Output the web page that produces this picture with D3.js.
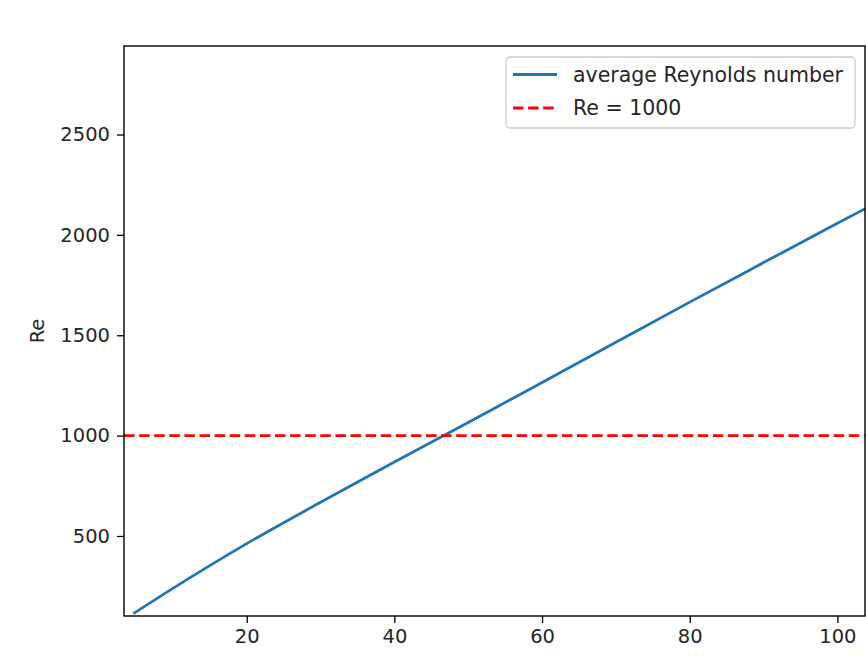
<!DOCTYPE html>
<html>
<head>
<meta charset="utf-8">
<script src="https://cdn.jsdelivr.net/npm/d3@7"></script>
<style>
  body { margin: 0; background: #fff; }
  text { font-family: "DejaVu Sans", sans-serif; fill: #262626; }
</style>
</head>
<body>
<div id="chart"></div>
<script>
// Data
const velocity = [4.64, 10, 20, 30, 40, 50, 60, 70, 80, 90, 100, 104];
const reynolds = [113, 239, 462, 668, 869, 1065, 1265, 1465, 1665, 1862, 2058, 2135];
const threshold = 1000;
const xTicks = [20, 40, 60, 80, 100];
const yTicks = [500, 1000, 1500, 2000, 2500];
const legendLabels = ["average Reynolds number", "Re = 1000"];

const svgWidth = 866;
const svgHeight = 658;

const margin = { top: 46, right: 1, bottom: 42, left: 124 };
const width = svgWidth - margin.left - margin.right;
const height = svgHeight - margin.top - margin.bottom;

const svg = d3.select("#chart")
  .append("svg")
  .attr("width", svgWidth)
  .attr("height", svgHeight);

const chartGroup = svg.append("g")
  .attr("transform", `translate(${margin.left}, ${margin.top})`);

const xScale = d3.scaleLinear().domain([3.38, 103.74]).range([0, width]);
const yScale = d3.scaleLinear().domain([101.4, 2941]).range([height, 0]);

chartGroup.append("clipPath").attr("id", "clip")
  .append("rect").attr("width", width).attr("height", height);

// axes
const bottomAxis = d3.axisBottom(xScale).tickValues(xTicks).tickSize(7).tickPadding(6).tickFormat(d3.format("d"));
const leftAxis = d3.axisLeft(yScale).tickValues(yTicks).tickSize(7).tickPadding(7).tickFormat(d3.format("d"));

const xAxis = chartGroup.append("g")
  .attr("transform", `translate(0, ${height})`)
  .call(bottomAxis);
const yAxis = chartGroup.append("g").call(leftAxis);

[xAxis, yAxis].forEach(ax => {
  ax.select(".domain").remove();
  ax.selectAll("line").attr("stroke", "#000").attr("stroke-width", 1.3);
  ax.selectAll("text").style("font-size", "19.5px").attr("fill", "#262626");
});
xAxis.selectAll("text").attr("dy", "0.72em");

// data lines
const data = velocity.map((v, i) => ({ x: v, y: reynolds[i] }));
const line = d3.line().x(d => xScale(d.x)).y(d => yScale(d.y)).curve(d3.curveMonotoneX);

chartGroup.append("path")
  .datum(data)
  .attr("clip-path", "url(#clip)")
  .attr("fill", "none")
  .attr("stroke", "#1f77b4")
  .attr("stroke-width", 2.8)
  .attr("d", line);

chartGroup.append("line")
  .attr("x1", 0).attr("x2", width)
  .attr("y1", yScale(threshold)).attr("y2", yScale(threshold))
  .attr("stroke", "#ff0000")
  .attr("stroke-width", 2.8)
  .attr("stroke-dasharray", "10.5,4.6");

// frame
chartGroup.append("rect")
  .attr("width", width).attr("height", height)
  .attr("fill", "none").attr("stroke", "#000").attr("stroke-width", 1.4);

// y label
svg.append("text")
  .attr("transform", `translate(44, ${margin.top + height / 2}) rotate(-90)`)
  .attr("text-anchor", "middle")
  .style("font-size", "19.5px")
  .text("Re");

// legend
const legend = svg.append("g").attr("transform", "translate(506, 57)");
legend.append("rect")
  .attr("width", 349).attr("height", 71)
  .attr("rx", 4)
  .attr("fill", "#fff").attr("fill-opacity", 0.8)
  .attr("stroke", "#cccccc").attr("stroke-width", 1.3);

const styles = [
  { color: "#1f77b4", dash: null },
  { color: "#ff0000", dash: "10.5,4.6" }
];
legendLabels.forEach((label, i) => {
  const y = 17.5 + i * 33.5;
  legend.append("line")
    .attr("x1", 7).attr("x2", 51)
    .attr("y1", y).attr("y2", y)
    .attr("stroke", styles[i].color)
    .attr("stroke-width", 2.8)
    .attr("stroke-dasharray", styles[i].dash);
  legend.append("text")
    .attr("x", 67).attr("y", y)
    .attr("dy", "0.35em")
    .style("font-size", "20.5px")
    .text(label);
});
</script>
</body>
</html>
